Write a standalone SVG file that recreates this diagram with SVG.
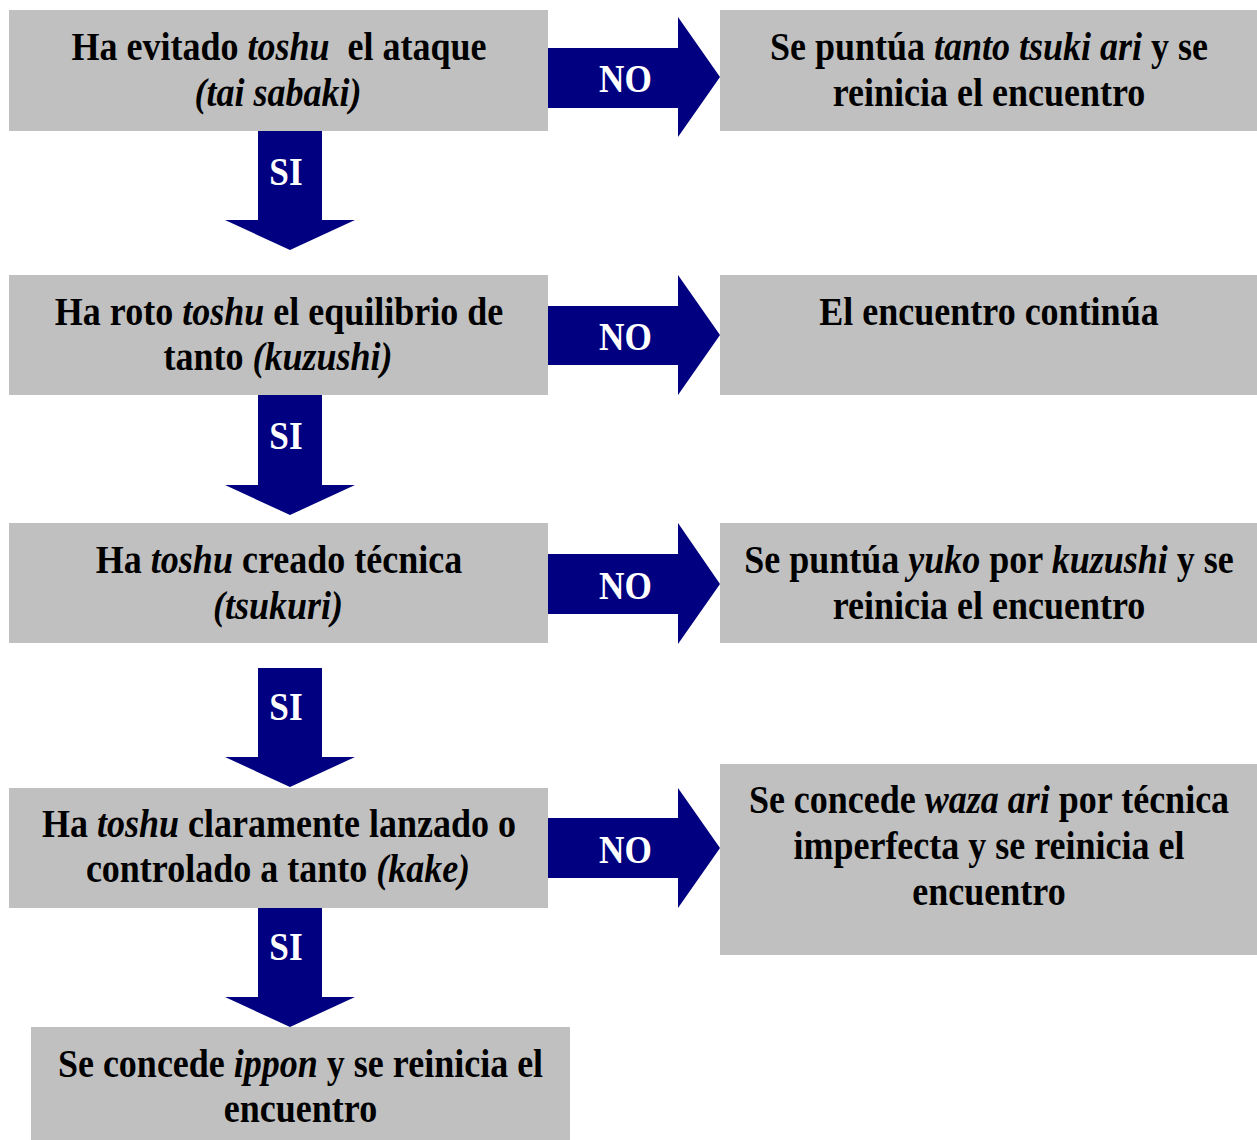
<svg xmlns="http://www.w3.org/2000/svg" width="1257" height="1140" viewBox="0 0 1257 1140">
<style>
.box{fill:#C0C0C0}
.arr{fill:#000080}
text{font-family:"Liberation Serif","Times New Roman",serif;font-weight:bold;font-size:40px;text-anchor:middle}
.t{fill:#000}
.lbl{fill:#fff}
.i{font-style:italic}
</style>
<rect width="1257" height="1140" fill="#fff"/>
<g id="connectors">
<polygon class="arr" points="548,48 678,48 678,17 720,77 678,137 678,108 548,108"/>
<polygon class="arr" points="548,306 678,306 678,275 720,335 678,395 678,365 548,365"/>
<polygon class="arr" points="548,554 678,554 678,523 720,584 678,644 678,614 548,614"/>
<polygon class="arr" points="548,818 678,818 678,788 720,848 678,908 678,878 548,878"/>
<polygon class="arr" points="258,131 322,131 322,220 355,220 290,250 225,220 258,220"/>
<polygon class="arr" points="258,395 322,395 322,485 355,485 290,515 225,485 258,485"/>
<polygon class="arr" points="258,668 322,668 322,757 355,757 290,787 225,757 258,757"/>
<polygon class="arr" points="258,908 322,908 322,997 355,997 290,1027 225,997 258,997"/>
<text class="lbl" transform="translate(625.5 92) scale(0.88 1)">NO</text>
<text class="lbl" transform="translate(625.5 350) scale(0.88 1)">NO</text>
<text class="lbl" transform="translate(625.5 599) scale(0.88 1)">NO</text>
<text class="lbl" transform="translate(625.5 863) scale(0.88 1)">NO</text>
<text class="lbl" transform="translate(286 185) scale(0.88 1)">SI</text>
<text class="lbl" transform="translate(286 449) scale(0.88 1)">SI</text>
<text class="lbl" transform="translate(286 720) scale(0.88 1)">SI</text>
<text class="lbl" transform="translate(286 960) scale(0.88 1)">SI</text>
</g>
<g id="n1">
<rect class="box" x="9" y="10" width="539" height="121"/>
<text class="t" xml:space="preserve" transform="translate(279 60) scale(0.9 1)">Ha evitado <tspan class="i">toshu</tspan>  el ataque</text>
<text class="t" transform="translate(278 106) scale(0.9 1)"><tspan class="i">(tai sabaki)</tspan></text>
</g>
<g id="n1no">
<rect class="box" x="720" y="10" width="537" height="121"/>
<text class="t" transform="translate(989 60) scale(0.9 1)">Se puntúa <tspan class="i">tanto tsuki ari</tspan> y se</text>
<text class="t" transform="translate(989 106) scale(0.9 1)">reinicia el encuentro</text>
</g>
<g id="n2">
<rect class="box" x="9" y="275" width="539" height="120"/>
<text class="t" transform="translate(279 325) scale(0.9 1)">Ha roto <tspan class="i">toshu</tspan> el equilibrio de</text>
<text class="t" transform="translate(278 370) scale(0.9 1)">tanto <tspan class="i">(kuzushi)</tspan></text>
</g>
<g id="n2no">
<rect class="box" x="720" y="275" width="537" height="120"/>
<text class="t" transform="translate(989 325) scale(0.9 1)">El encuentro continúa</text>
</g>
<g id="n3">
<rect class="box" x="9" y="523" width="539" height="120"/>
<text class="t" transform="translate(279 573) scale(0.9 1)">Ha <tspan class="i">toshu</tspan> creado técnica</text>
<text class="t" transform="translate(278 619) scale(0.9 1)"><tspan class="i">(tsukuri)</tspan></text>
</g>
<g id="n3no">
<rect class="box" x="720" y="523" width="537" height="120"/>
<text class="t" transform="translate(989 573) scale(0.9 1)">Se puntúa <tspan class="i">yuko</tspan> por <tspan class="i">kuzushi</tspan> y se</text>
<text class="t" transform="translate(989 619) scale(0.9 1)">reinicia el encuentro</text>
</g>
<g id="n4">
<rect class="box" x="9" y="788" width="539" height="120"/>
<text class="t" transform="translate(279 837) scale(0.9 1)">Ha <tspan class="i">toshu</tspan> claramente lanzado o</text>
<text class="t" transform="translate(278 882) scale(0.9 1)">controlado a tanto <tspan class="i">(kake)</tspan></text>
</g>
<g id="n4no">
<rect class="box" x="720" y="764" width="537" height="191"/>
<text class="t" transform="translate(989 813) scale(0.9 1)">Se concede <tspan class="i">waza ari</tspan> por técnica</text>
<text class="t" transform="translate(989 859) scale(0.9 1)">imperfecta y se reinicia el</text>
<text class="t" transform="translate(989 905) scale(0.9 1)">encuentro</text>
</g>
<g id="n5">
<rect class="box" x="31" y="1027" width="539" height="113"/>
<text class="t" transform="translate(300.5 1077) scale(0.9 1)">Se concede <tspan class="i">ippon</tspan> y se reinicia el</text>
<text class="t" transform="translate(300.5 1122) scale(0.9 1)">encuentro</text>
</g>
</svg>
